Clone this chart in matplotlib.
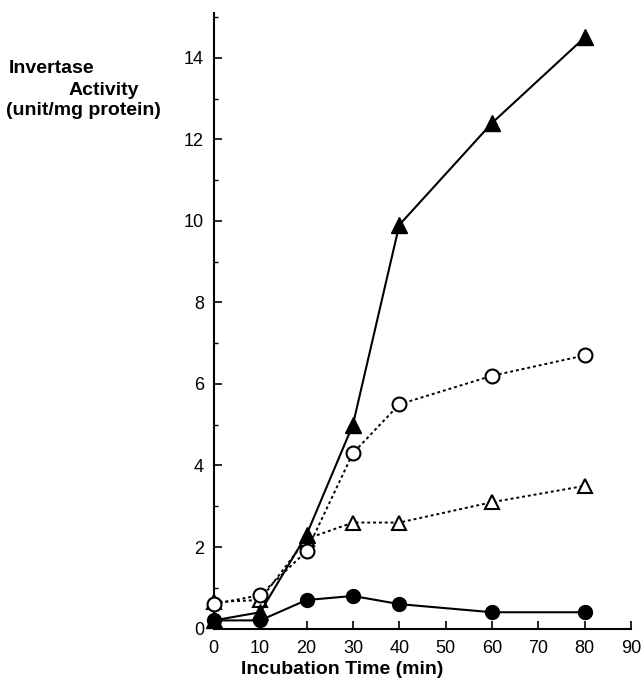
import matplotlib.pyplot as plt
from matplotlib.ticker import MultipleLocator

plt.rcParams['font.family'] = ['Liberation Sans', 'DejaVu Sans']

# Data
time_min = [0, 10, 20, 30, 40, 60, 80]
filled_tri = [0.2, 0.4, 2.3, 5.0, 9.9, 12.4, 14.5]
open_circ = [0.6, 0.82, 1.9, 4.3, 5.5, 6.2, 6.7]
open_tri = [0.65, 0.7, 2.2, 2.6, 2.6, 3.1, 3.5]
filled_circ = [0.2, 0.2, 0.7, 0.8, 0.6, 0.4, 0.4]

x_ticks = [0, 10, 20, 30, 40, 50, 60, 70, 80, 90]
y_ticks = [0, 2, 4, 6, 8, 10, 12, 14]

fig = plt.figure(figsize=(6.44, 6.81), dpi=100)
ax = fig.add_axes([0.332, 0.077, 0.648, 0.904])

dots = (0, (1.5, 1.5))
ax.plot(time_min, open_tri, linestyle=dots, color='black', lw=1.4,
        marker='^', ms=10, mfc='white', mec='black', mew=1.5, zorder=3, clip_on=False)
ax.plot(time_min, open_circ, linestyle=dots, color='black', lw=1.4,
        marker='o', ms=10, mfc='white', mec='black', mew=1.5, zorder=3, clip_on=False)
ax.plot(time_min, filled_circ, linestyle='-', color='black', lw=1.5,
        marker='o', ms=10, mfc='black', mec='black', zorder=4, clip_on=False)
ax.plot(time_min, filled_tri, linestyle='-', color='black', lw=1.5,
        marker='^', ms=11, mfc='black', mec='black', zorder=5, clip_on=False)

ax.set_xlim(0, 90)
ax.set_ylim(0, 15.1)
ax.set_xticks(x_ticks)
ax.set_yticks(y_ticks)
ax.yaxis.set_minor_locator(MultipleLocator(1))
ax.tick_params(direction='in', length=6, width=1.2, labelsize=13)
ax.tick_params(which='minor', direction='in', length=3, width=1)
ax.tick_params(axis='x', pad=8)
ax.tick_params(axis='y', pad=7)

for s in ['top', 'right']:
    ax.spines[s].set_visible(False)
for s in ['left', 'bottom']:
    ax.spines[s].set_linewidth(1.5)

fig.text(0.531, 0.017, 'Incubation Time (min)', fontsize=14, fontweight='bold',
         ha='center', va='center')

fig.text(0.014, 0.900, 'Invertase', fontsize=14, fontweight='bold', ha='left', va='center')
fig.text(0.106, 0.867, 'Activity', fontsize=14, fontweight='bold', ha='left', va='center')
fig.text(0.010, 0.838, '(unit/mg protein)', fontsize=14, fontweight='bold', ha='left', va='center')

fig.savefig('out.png', dpi=100)
